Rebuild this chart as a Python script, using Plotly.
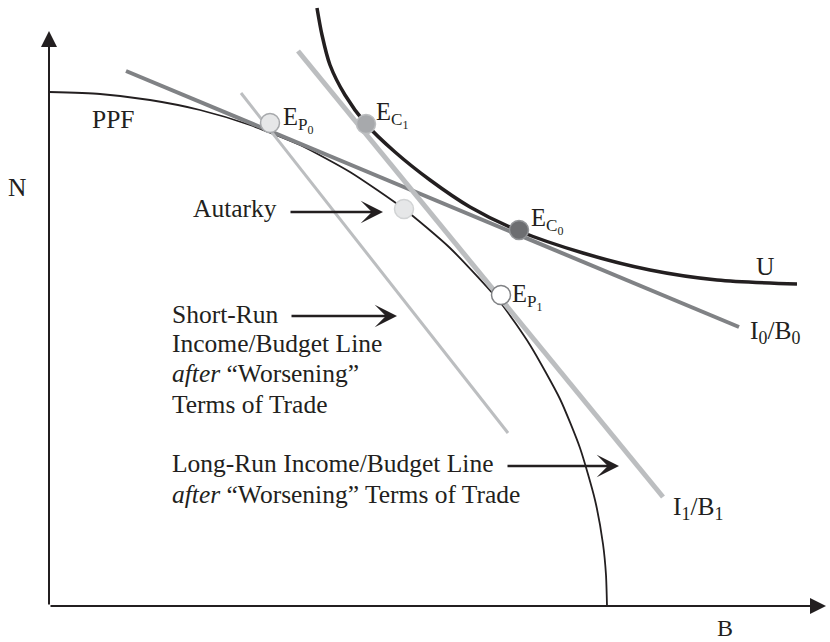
import plotly.graph_objects as go

# ---- data (schematic units: horizontal B, vertical N) ----
ppf_b = [0, 51, 101, 151, 201, 251, 301, 355, 401, 451, 481, 511, 531, 546, 554, 557, 558]
ppf_n = [514, 512, 506, 496, 481, 461, 434, 397, 358, 304, 261, 207, 158, 106, 62, 31, 0]

u_b = [268, 273, 281, 296, 317, 346, 381, 421, 470, 534, 601, 668, 748]
u_n = [598, 571, 541, 511, 482, 454, 426, 399, 375, 353, 336, 326, 322]

i0_b = [77, 690]
i0_n = [535, 279]

i1_b = [249, 614]
i1_n = [555, 109]

sr_b = [192, 459]
sr_n = [513, 173]

pt_names = ["E_P0", "E_C1", "Autarky", "E_C0", "E_P1"]
pt_b = [221, 317, 355, 470, 452]
pt_n = [483, 482, 397, 376, 311]
pt_fill = ["#e6e7e8", "#a7a9ac", "#e6e7e8", "#6d6e71", "#ffffff"]
pt_edge = ["#a7a9ac", "#bcbec0", "#d1d3d4", "#939598", "#808285"]

INK = "#231f20"
FONT = "Liberation Serif"
FS = 25.5

fig = go.Figure()
fig.add_trace(go.Scatter(x=ppf_b, y=ppf_n, mode="lines",
                         line=dict(color=INK, width=1.8, shape="spline", smoothing=0.6)))
fig.add_trace(go.Scatter(x=i0_b, y=i0_n, mode="lines", line=dict(color="#808285", width=4)))
fig.add_trace(go.Scatter(x=i1_b, y=i1_n, mode="lines", line=dict(color="#bcbec0", width=5)))
fig.add_trace(go.Scatter(x=sr_b, y=sr_n, mode="lines", line=dict(color="#bcbec0", width=3)))
fig.add_trace(go.Scatter(x=u_b, y=u_n, mode="lines",
                         line=dict(color=INK, width=3.5, shape="spline", smoothing=0.8)))
fig.add_trace(go.Scatter(x=pt_b, y=pt_n, mode="markers", text=pt_names, hoverinfo="text",
                         marker=dict(size=19, color=pt_fill, line=dict(color=pt_edge, width=1.5))))

ann = []
# axes with arrowheads
ann.append(dict(x=0, y=575, ax=0, ay=0, axref="x", ayref="y", xref="x", yref="y", text="",
                showarrow=True, arrowhead=2, arrowsize=1.6, arrowwidth=2, arrowcolor=INK, standoff=0))
ann.append(dict(x=777, y=0, ax=0, ay=0, axref="x", ayref="y", xref="x", yref="y", text="",
                showarrow=True, arrowhead=2, arrowsize=1.6, arrowwidth=2, arrowcolor=INK, standoff=0))

# pointer arrows
for (x0, x1, y) in [(240, 334, 394), (241, 348, 290), (457, 570, 140)]:
    ann.append(dict(x=x1, y=y, ax=x0, ay=y, axref="x", ayref="y", xref="x", yref="y", text="",
                    showarrow=True, arrowhead=3, arrowsize=1.55, arrowwidth=2.4, arrowcolor=INK, standoff=0))

def label(txt, x, y, xa="left", size=FS, ref="x", ya="middle"):
    ann.append(dict(x=x, y=y, xref=ref, yref=ref.replace("x", "y"), text=txt, showarrow=False,
                    xanchor=xa, yanchor=ya, align="left", borderpad=0,
                    font=dict(family=FONT, size=size, color=INK)))

label("PPF", 42, 487)
label("N", -0.041, 0.691, xa="center", ref="paper")
label("B", 0.8656, -36 / 606, xa="center", ref="paper", ya="bottom", size=24)
label("U", 716, 340, xa="center")
label("Autarky", 143, 398)
label("I<sub>0</sub>/B<sub>0</sub>", 700, 274)
label("I<sub>1</sub>/B<sub>1</sub>", 623, 98)
label("E<sub>P<sub>0</sub></sub>", 233, 486, size=24.5)
label("E<sub>C<sub>1</sub></sub>", 326, 491, size=24.5)
label("E<sub>C<sub>0</sub></sub>", 481, 385, size=24.5)
label("E<sub>P<sub>1</sub></sub>", 462, 309, size=24.5)

short_lines = ["Short-Run", "Income/Budget Line", "<i>after</i> “Worsening”", "Terms of Trade"]
for txt, yy in zip(short_lines, [291.5, 262.5, 232.5, 201.5]):
    label(txt, 122, yy)
long_lines = ["Long-Run Income/Budget Line", "<i>after</i> “Worsening” Terms of Trade"]
for txt, yy in zip(long_lines, [142.5, 111.5]):
    label(txt, 122, yy)

fig.update_layout(
    width=830, height=642,
    margin=dict(l=49, r=0, t=0, b=36, pad=0),
    paper_bgcolor="white", plot_bgcolor="white",
    showlegend=False,
    xaxis=dict(range=[0, 781], visible=False, fixedrange=True),
    yaxis=dict(range=[0, 606], visible=False, fixedrange=True),
    annotations=ann,
)

fig.write_html("out.html", config={"displayModeBar": False},
               post_script="document.body.style.margin='0';")
